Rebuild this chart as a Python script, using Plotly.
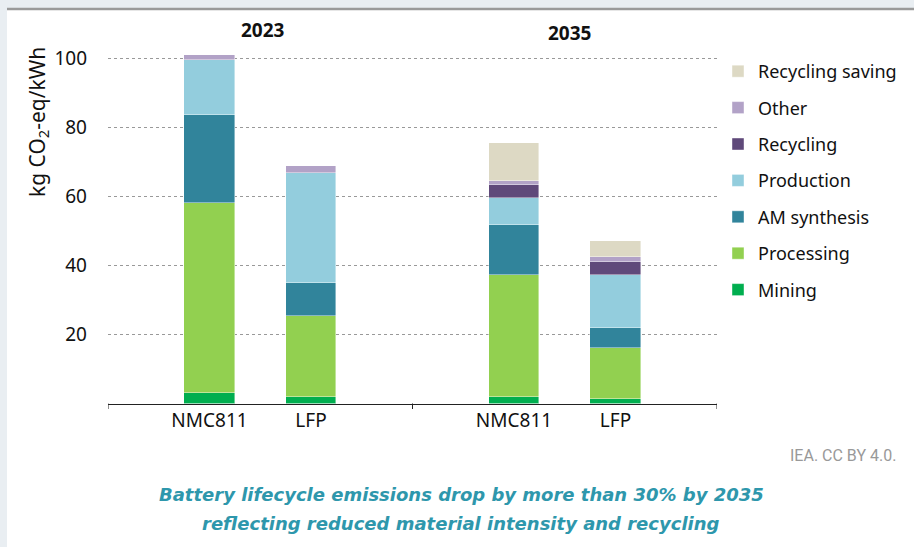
# battery lifecycle emissions per kWh, 2023 vs 2035, stacked by stage
import plotly.graph_objects as go

W, H = 914, 547

years = ["2023", "2035"]
chemistries = ["NMC811", "LFP", "NMC811", "LFP"]
x_pos = [1, 2, 4, 5]  # two slots per year group, one empty gap between groups

# segment values (kg CO2-eq/kWh), order: NMC811 2023, LFP 2023, NMC811 2035, LFP 2035
mining = [3.1, 2.0, 2.0, 1.2]
processing = [55.2, 23.5, 35.2, 15.0]
am_synthesis = [25.3, 9.6, 14.7, 5.6]
production = [16.0, 31.8, 7.7, 15.4]
recycling = [0.0, 0.0, 3.8, 3.9]
other = [1.5, 2.0, 1.2, 1.4]
recycling_saving = [0.0, 0.0, 11.0, 4.6]

series = [
    ("Mining", mining, "#00AE4F"),
    ("Processing", processing, "#92D050"),
    ("AM synthesis", am_synthesis, "#31849B"),
    ("Production", production, "#93CDDD"),
    ("Recycling", recycling, "#5F497A"),
    ("Other", other, "#B2A2C7"),
    ("Recycling saving", recycling_saving, "#DDD9C4"),
]

FONT = "Noto Sans"

fig = go.Figure()
for i, (name, vals, color) in enumerate(series):
    fig.add_trace(go.Bar(
        x=x_pos, y=vals, name=name, width=0.5,
        marker=dict(color=color, line=dict(color="rgba(255,255,255,0.7)", width=0.6)),
        legendgroup=str(i), legendrank=100 - i,
    ))

# pixel helpers for the layout
def px_x(p):
    return p / W

def px_y(p):
    return 1 - p / H

fig.update_layout(
    barmode="stack",
    width=W, height=H,
    margin=dict(l=0, r=0, t=0, b=0),
    paper_bgcolor="#E9EEF2",
    plot_bgcolor="rgba(0,0,0,0)",
    font=dict(family=FONT, size=17, color="#111111"),
    bargap=0,
    xaxis=dict(
        domain=[px_x(108), px_x(717)],
        range=[0, 6],
        tickvals=x_pos, ticktext=chemistries,
        ticks="", showgrid=False, zeroline=False,
        showline=True, linecolor="#222222", linewidth=1,
        tickfont=dict(size=19),
    ),
    yaxis=dict(
        domain=[px_y(403.5), px_y(45)],
        range=[0, 104],
        tickvals=[20, 40, 60, 80, 100],
        showgrid=True, gridcolor="#999999", griddash="dot", gridwidth=1,
        zeroline=False, showline=False, ticks="",
        ticklabelstandoff=20,
        tickfont=dict(size=19),
    ),
    legend=dict(
        x=px_x(718), y=px_y(53), xanchor="left", yanchor="top",
        traceorder="grouped", tracegroupgap=10,
        bgcolor="rgba(0,0,0,0)", font=dict(size=18),
    ),
    shapes=[
        # white panel with grey top rule
        dict(type="rect", xref="paper", yref="paper",
             x0=px_x(7), x1=1, y0=0, y1=px_y(9.5),
             fillcolor="white", line=dict(width=0), layer="below"),
        dict(type="line", xref="paper", yref="paper",
             x0=px_x(7), x1=1, y0=px_y(9), y1=px_y(9),
             line=dict(color="#9A9A9A", width=2.5)),
        # group separator ticks on the axis
        dict(type="line", xref="x", yref="paper", x0=0, x1=0,
             y0=px_y(403.5), y1=px_y(409), line=dict(color="#222222", width=1)),
        dict(type="line", xref="x", yref="paper", x0=3, x1=3,
             y0=px_y(403.5), y1=px_y(409), line=dict(color="#222222", width=1)),
        dict(type="line", xref="x", yref="paper", x0=6, x1=6,
             y0=px_y(403.5), y1=px_y(409), line=dict(color="#222222", width=1)),
    ],
)

annotations = [
    dict(text="kg CO<sub>2</sub>-eq/kWh", textangle=-90,
         x=px_x(38), y=px_y(122), xref="paper", yref="paper",
         xanchor="center", yanchor="middle",
         showarrow=False, font=dict(size=21)),
    dict(text="<b>2023</b>", x=1.53, y=px_y(30), xref="x", yref="paper",
         yanchor="middle", showarrow=False, font=dict(size=19)),
    dict(text="<b>2035</b>", x=4.55, y=px_y(33), xref="x", yref="paper",
         yanchor="middle", showarrow=False, font=dict(size=19)),
    dict(text="IEA. CC BY 4.0.", x=px_x(898), y=px_y(455), xref="paper", yref="paper",
         xanchor="right", yanchor="middle", showarrow=False,
         font=dict(family="Liberation Sans Narrow, Roboto", size=16, color="#999999")),
    dict(text="<b><i>Battery lifecycle emissions drop by more than 30% by 2035</i></b>",
         x=px_x(461), y=px_y(494), xref="paper", yref="paper",
         yanchor="middle", showarrow=False,
         font=dict(family="DejaVu Sans", size=18, color="#2E97AC")),
    dict(text="<b><i>reflecting reduced material intensity and recycling</i></b>",
         x=px_x(461), y=px_y(523), xref="paper", yref="paper",
         yanchor="middle", showarrow=False,
         font=dict(family="DejaVu Sans", size=18, color="#2E97AC")),
]
fig.update_layout(annotations=annotations)

# drop the default 8px body margin so the figure fills the window
fig.write_html("out.html", config={"displayModeBar": False},
               post_script="document.body.style.margin='0';")
